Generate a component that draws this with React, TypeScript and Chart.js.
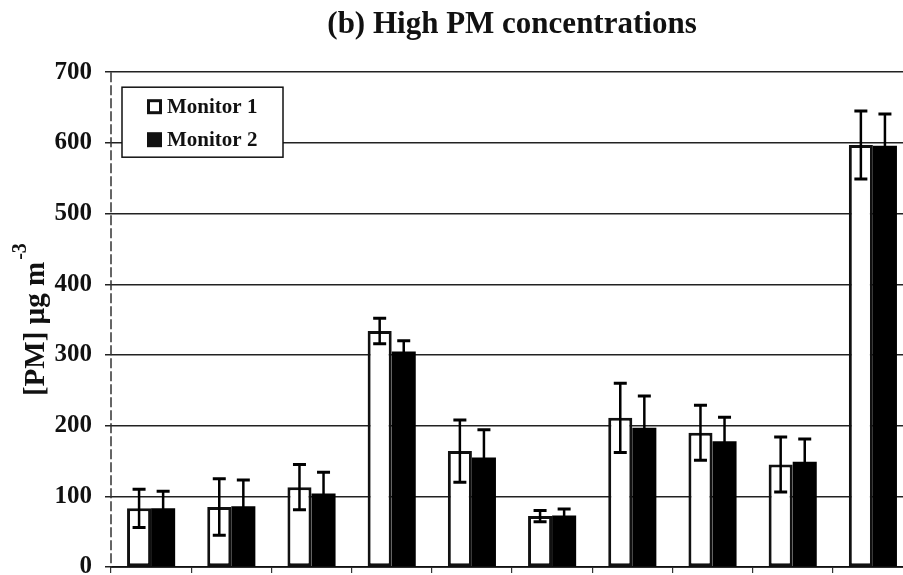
import React, { useEffect, useRef } from "react";
import { Chart, registerables } from "chart.js";

Chart.register(...registerables);

const categories = ["1", "2", "3", "4", "5", "6", "7", "8", "9", "10"];
const monitor1 = [83, 85, 113, 334, 164, 72, 211, 190, 145, 597];
const monitor1Err = [27, 40, 32, 18, 44, 8, 49, 39, 39, 48];
const monitor2 = [83, 86, 104, 305, 155, 73, 197, 178, 149, 596];
const monitor2Err = [24, 37, 30, 15, 39, 9, 45, 34, 32, 45];
const yTicks = [0, 100, 200, 300, 400, 500, 600, 700];
const seriesNames = ["Monitor 1", "Monitor 2"];
const titleText = "(b) High PM concentrations";
const yTitleMain = "[PM] \u00B5g m";
const yTitleSup = "-3";

const FONT = "'Liberation Serif', 'Times New Roman', serif";
const INK = "#000";

const errors = [monitor1Err, monitor2Err];

const errorBarPlugin = {
  id: "errorBars",
  afterDatasetsDraw(chart: any) {
    const ctx = chart.ctx;
    const y = chart.scales.y;
    ctx.save();
    ctx.strokeStyle = INK;
    chart.data.datasets.forEach((ds: any, di: number) => {
      const meta = chart.getDatasetMeta(di);
      meta.data.forEach((bar: any, i: number) => {
        const v = ds.data[i];
        const e = errors[di][i];
        const yt = y.getPixelForValue(v + e);
        const yb = y.getPixelForValue(v - e);
        const x = bar.x;
        ctx.lineWidth = 2.5;
        ctx.beginPath();
        ctx.moveTo(x, yt);
        ctx.lineTo(x, yb);
        ctx.stroke();
        ctx.lineWidth = 3;
        ctx.beginPath();
        ctx.moveTo(x - 6.5, yt);
        ctx.lineTo(x + 6.5, yt);
        ctx.moveTo(x - 6.5, yb);
        ctx.lineTo(x + 6.5, yb);
        ctx.stroke();
      });
    });
    ctx.restore();
  },
};

const axisLinePlugin = {
  id: "dashedYAxis",
  beforeDatasetsDraw(chart: any) {
    const ctx = chart.ctx;
    const a = chart.chartArea;
    ctx.save();
    ctx.strokeStyle = "#333";
    ctx.lineWidth = 1.5;
    ctx.setLineDash([10, 3]);
    ctx.beginPath();
    ctx.moveTo(a.left, a.top);
    ctx.lineTo(a.left, a.bottom);
    ctx.stroke();
    ctx.restore();
  },
};

const legendPlugin = {
  id: "insideLegend",
  afterDatasetsDraw(chart: any) {
    const ctx = chart.ctx;
    const a = chart.chartArea;
    const bx = a.left + 11;
    const by = a.top + 15;
    const bw = 161;
    const bh = 70;
    ctx.save();
    ctx.fillStyle = "#fff";
    ctx.fillRect(bx, by, bw, bh);
    ctx.strokeStyle = "#111";
    ctx.lineWidth = 1.5;
    ctx.strokeRect(bx, by, bw, bh);
    ctx.font = `bold 21px ${FONT}`;
    ctx.textBaseline = "middle";
    ctx.textAlign = "left";
    seriesNames.forEach((name, i) => {
      const cy = by + 19 + i * 33;
      const mx = bx + 25;
      if (i === 0) {
        ctx.fillStyle = "#fff";
        ctx.fillRect(mx, cy - 7, 15, 15);
        ctx.lineWidth = 3;
        ctx.strokeStyle = "#111";
        ctx.strokeRect(mx + 1.5, cy - 5.5, 12, 12);
      } else {
        ctx.fillStyle = "#111";
        ctx.fillRect(mx, cy - 7, 15, 15);
      }
      ctx.fillStyle = "#111";
      ctx.fillText(name, mx + 20, cy + 1);
    });
    ctx.restore();
  },
};

const yTitlePlugin = {
  id: "yTitleSup",
  afterDraw(chart: any) {
    const ctx = chart.ctx;
    const a = chart.chartArea;
    const cx = a.left - 65;
    const cy = (a.top + a.bottom) / 2;
    ctx.save();
    ctx.translate(cx, cy);
    ctx.rotate(-Math.PI / 2);
    ctx.fillStyle = "#111";
    ctx.textBaseline = "alphabetic";
    ctx.textAlign = "left";
    ctx.font = `bold 29px ${FONT}`;
    const w1 = ctx.measureText(yTitleMain).width;
    ctx.font = `bold 20px ${FONT}`;
    const w2 = ctx.measureText(yTitleSup).width;
    const start = -(w1 + w2 + 2) / 2;
    ctx.font = `bold 29px ${FONT}`;
    ctx.fillText(yTitleMain, start, -2);
    ctx.font = `bold 20px ${FONT}`;
    ctx.fillText(yTitleSup, start + w1 + 2, -20);
    ctx.restore();
  },
};

export default function App() {
  const ref = useRef<HTMLCanvasElement>(null);
  useEffect(() => {
    if (!ref.current) return;
    const chart = new Chart(ref.current, {
      type: "bar",
      data: {
        labels: categories,
        datasets: [
          {
            label: seriesNames[0],
            data: monitor1,
            backgroundColor: "#fff",
            borderColor: "#111",
            borderWidth: 3,
            borderSkipped: false,
            barPercentage: 1,
            categoryPercentage: 0.6,
          },
          {
            label: seriesNames[1],
            data: monitor2,
            backgroundColor: "#000",
            borderColor: "#000",
            borderWidth: 0,
            barPercentage: 1,
            categoryPercentage: 0.6,
          },
        ],
      },
      options: {
        responsive: false,
        animation: false,
        layout: { padding: { top: 0, left: 0, right: 111, bottom: 0 } },
        plugins: {
          legend: { display: false },
          tooltip: { enabled: false },
          title: {
            display: true,
            fullSize: false,
            text: titleText,
            color: "#111",
            font: { family: FONT, size: 31, weight: "bold" },
            padding: { top: 6, bottom: 29 },
          },
        },
        scales: {
          x: {
            afterFit: (s: any) => {
              s.height = 53;
            },
            ticks: { display: false },
            grid: {
              drawOnChartArea: false,
              drawTicks: true,
              tickLength: 6,
              color: "#333",
              lineWidth: 1.2,
            },
            border: { display: true, color: "#111", width: 1.8 },
          },
          y: {
            min: 0,
            max: 700,
            afterFit: (s: any) => {
              s.width = 111;
            },
            afterBuildTicks: (s: any) => {
              s.ticks = yTicks.map((v) => ({ value: v }));
            },
            ticks: {
              color: "#111",
              padding: 13,
              font: { family: FONT, size: 25, weight: "bold" },
            },
            grid: {
              color: "#222",
              lineWidth: 1.5,
              drawTicks: true,
              tickLength: 6,
            },
            border: { display: false },
          },
        },
      },
      plugins: [axisLinePlugin, errorBarPlugin, legendPlugin, yTitlePlugin],
    });
    return () => chart.destroy();
  }, []);

  return (
    <div
      style={{
        position: "fixed",
        left: 0,
        top: 0,
        width: 903,
        height: 575,
        overflow: "hidden",
        background: "#fff",
      }}
    >
      <canvas ref={ref} width={1024} height={620} style={{ width: 1024, height: 620, display: "block" }} />
    </div>
  );
}
